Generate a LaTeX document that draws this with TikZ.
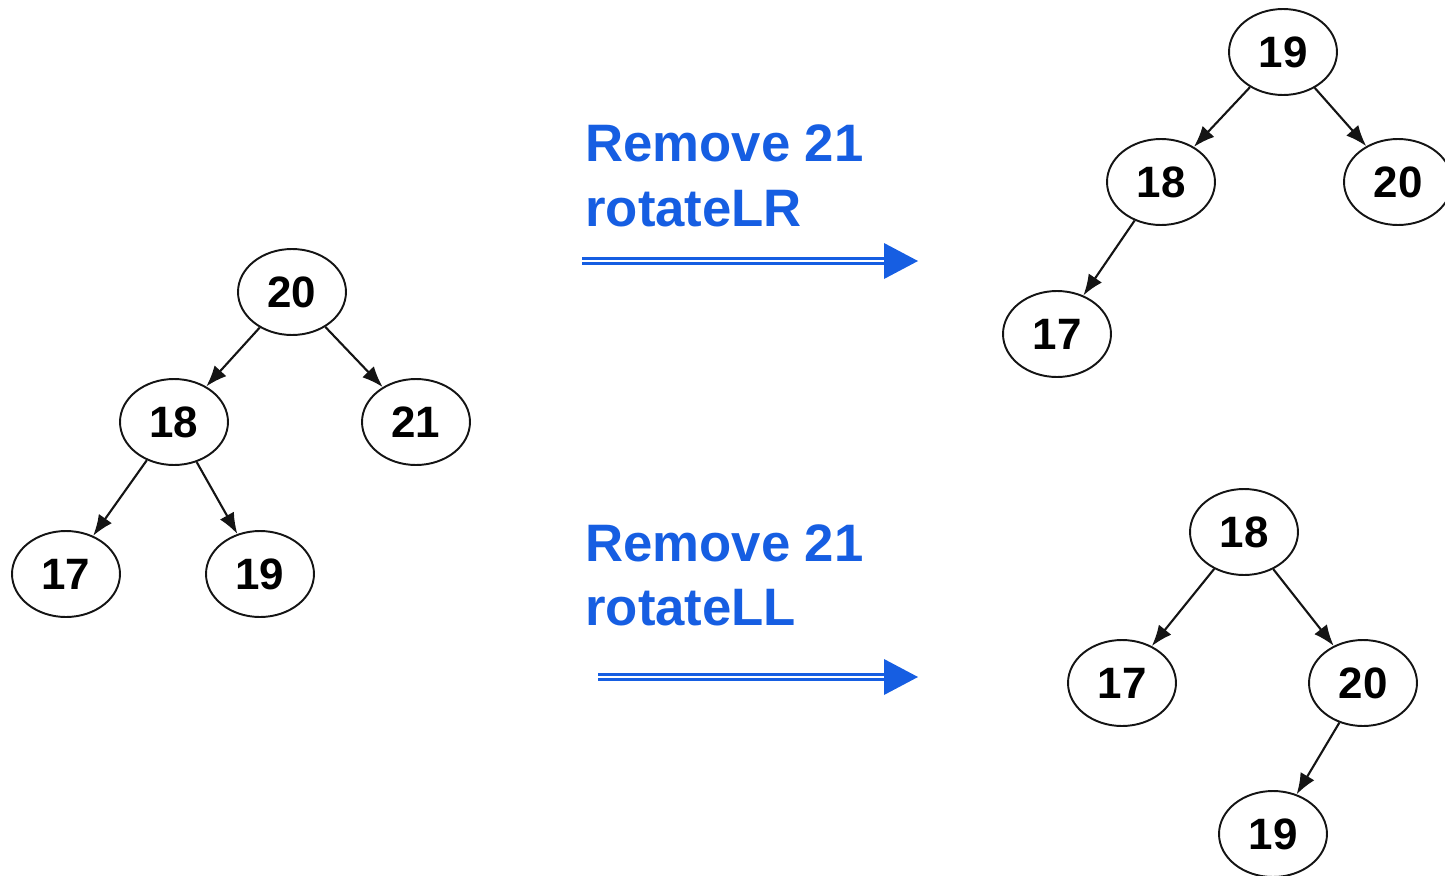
\documentclass[tikz,border=0pt]{standalone}
\usepackage{fontspec}
\setmainfont{Liberation Sans}
\usetikzlibrary{arrows.meta,positioning,shapes.geometric}
\definecolor{ink}{RGB}{20,20,20}
\definecolor{opblue}{RGB}{22,94,226}
\tikzset{
  key/.style={ellipse,draw=ink,line width=1.1pt,minimum width=2.16cm,
    minimum height=1.72cm,inner sep=0pt,font=\fontsize{25}{25}\selectfont\bfseries},
  edge/.style={-{Latex[length=4.2mm,width=3.2mm]},line width=1.2pt,ink},
  op/.style={anchor=base west,text=opblue,inner sep=0pt,
    font=\fontsize{30}{36}\selectfont\bfseries},
  dbl/.style={opblue,double=white,line width=1.6pt,double distance=1.6pt},
}

\begin{document}
\begin{tikzpicture}[x=0.02cm,y=-0.02cm]
  \useasboundingbox (0,0) rectangle (1445,876);

  % tree before removal
  \node[key] (a20) at (292,292) {20};
  \node[key] (a18) at (174,422) {18};
  \node[key] (a21) at (416,422) {21};
  \node[key] (a17) at (66,574) {17};
  \node[key] (a19) at (260,574) {19};
  \draw[edge] (a20) -- (a18);
  \draw[edge] (a20) -- (a21);
  \draw[edge] (a18) -- (a17);
  \draw[edge] (a18) -- (a19);

  % after rotateLR
  \node[key] (b19) at (1283,52) {19};
  \node[key] (b18) at (1161,182) {18};
  \node[key] (b20) at (1398,182) {20};
  \node[key] (b17) at (1057,334) {17};
  \draw[edge] (b19) -- (b18);
  \draw[edge] (b19) -- (b20);
  \draw[edge] (b18) -- (b17);

  % after rotateLL
  \node[key] (c18) at (1244,532) {18};
  \node[key] (c17) at (1122,683) {17};
  \node[key] (c20) at (1363,683) {20};
  \node[key] (c19) at (1273,834) {19};
  \draw[edge] (c18) -- (c17);
  \draw[edge] (c18) -- (c20);
  \draw[edge] (c20) -- (c19);

  % operation labels
  \node[op] (lr1) at (585,161) {Remove 21};
  \node[op] (lr2) at (585,226) {rotateLR};
  \node[op] (ll1) at (585,561) {Remove 21};
  \node[op] (ll2) at (585,625) {rotateLL};

  % double arrows
  \coordinate (lrS) at (582,261);
  \coordinate (lrE) at (918,261);
  \coordinate (llS) at (598,677);
  \coordinate (llE) at (918,677);
  \draw[dbl,shorten >=0.64cm] (lrS) -- (lrE);
  \fill[opblue] (lrE) -- ++(-34,-18) -- ++(0,36) -- cycle;
  \draw[dbl,shorten >=0.64cm] (llS) -- (llE);
  \fill[opblue] (llE) -- ++(-34,-18) -- ++(0,36) -- cycle;
\end{tikzpicture}
\end{document}
